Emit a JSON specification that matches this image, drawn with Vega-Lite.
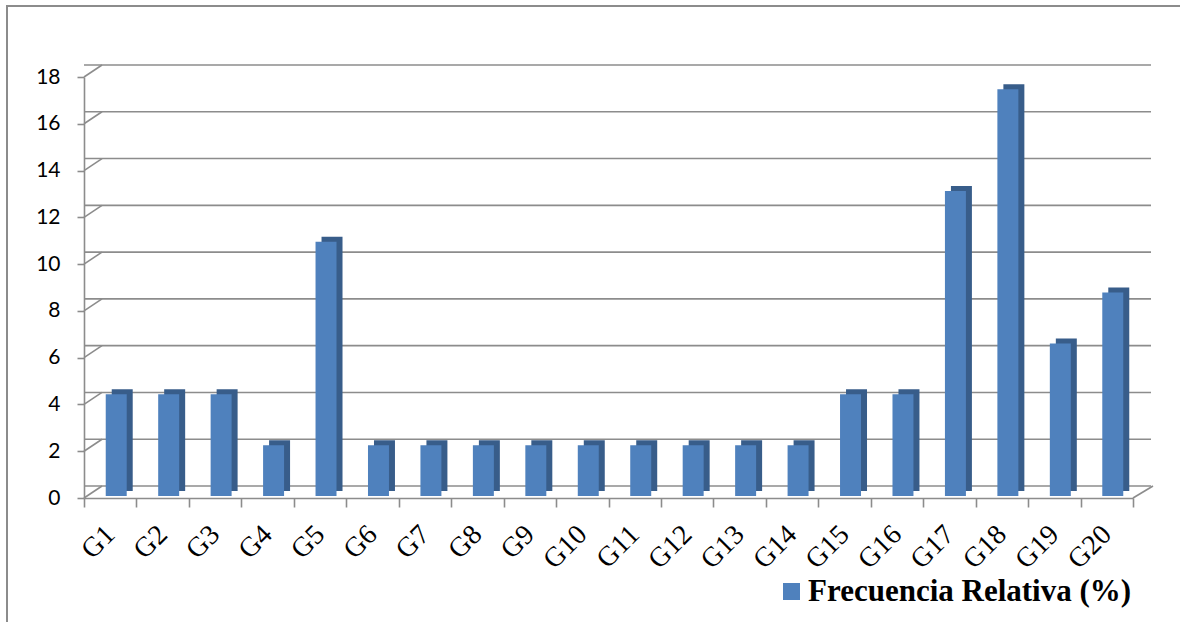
{
  "$schema": "https://vega.github.io/schema/vega-lite/v6.json",
  "width": 1049,
  "height": 421,
  "autosize": {"type": "none"},
  "padding": {"left": 84, "top": 77, "right": 47, "bottom": 124},
  "background": "white",
  "datasets": {
    "bars": [
      {"g": "G1", "v": 4.35}, {"g": "G2", "v": 4.35}, {"g": "G3", "v": 4.35},
      {"g": "G4", "v": 2.17}, {"g": "G5", "v": 10.87}, {"g": "G6", "v": 2.17},
      {"g": "G7", "v": 2.17}, {"g": "G8", "v": 2.17}, {"g": "G9", "v": 2.17},
      {"g": "G10", "v": 2.17}, {"g": "G11", "v": 2.17}, {"g": "G12", "v": 2.17},
      {"g": "G13", "v": 2.17}, {"g": "G14", "v": 2.17}, {"g": "G15", "v": 4.35},
      {"g": "G16", "v": 4.35}, {"g": "G17", "v": 13.04}, {"g": "G18", "v": 17.39},
      {"g": "G19", "v": 6.52}, {"g": "G20", "v": 8.7}
    ],
    "grid": [
      {"t": 0}, {"t": 2}, {"t": 4}, {"t": 6}, {"t": 8},
      {"t": 10}, {"t": 12}, {"t": 14}, {"t": 16}, {"t": 18}
    ]
  },
  "config": {
    "view": {"stroke": null},
    "axis": {
      "domainColor": "#8c8c8c", "domainWidth": 1.6,
      "tickColor": "#8c8c8c", "tickWidth": 1.6,
      "labelColor": "#000000", "grid": false
    },
    "axisY": {"labelFont": "Lato", "labelFontSize": 21, "tickSize": 7, "labelPadding": 17}
  },
  "layer": [
    {
      "data": {"values": [{}]},
      "mark": {"type": "rule", "color": "#8c8c8c", "strokeWidth": 2},
      "encoding": {"x": {"value": -77}, "y": {"value": -71}, "y2": {"value": 545}}
    },
    {
      "data": {"values": [{}]},
      "mark": {"type": "rule", "color": "#8c8c8c", "strokeWidth": 2},
      "encoding": {"x": {"value": -78}, "x2": {"value": 1100}, "y": {"value": -71}}
    },
    {
      "data": {"name": "grid"},
      "mark": {"type": "rule", "color": "#8c8c8c", "strokeWidth": 1.6, "xOffset": 18, "x2Offset": 20, "yOffset": -12},
      "encoding": {
        "y": {"field": "t", "type": "quantitative", "title": null, "scale": {"domain": [0, 18], "nice": false}}
      }
    },
    {
      "data": {"name": "grid"},
      "mark": {"type": "rule", "color": "#8c8c8c", "strokeWidth": 1.6, "x2Offset": 18, "y2Offset": -12},
      "encoding": {
        "x": {"datum": "G1", "bandPosition": 0, "type": "nominal"},
        "x2": {"datum": "G1", "bandPosition": 0},
        "y": {"field": "t", "type": "quantitative", "title": null},
        "y2": {"field": "t"}
      }
    },
    {
      "data": {"values": [{"t": 0}]},
      "mark": {"type": "rule", "color": "#8c8c8c", "strokeWidth": 1.6, "x2Offset": 20, "y2Offset": -12},
      "encoding": {
        "x": {"datum": "G20", "bandPosition": 1, "type": "nominal"},
        "x2": {"datum": "G20", "bandPosition": 1},
        "y": {"field": "t", "type": "quantitative", "title": null},
        "y2": {"field": "t"}
      }
    },
    {
      "data": {"name": "bars"},
      "mark": {"type": "bar", "color": "#385D8A", "width": {"band": 0.4}, "xOffset": 12, "x2Offset": 12, "yOffset": -7, "y2Offset": -7},
      "encoding": {
        "x": {"field": "g", "type": "nominal", "title": null,
              "scale": {"domain": ["G1","G2","G3","G4","G5","G6","G7","G8","G9","G10","G11","G12","G13","G14","G15","G16","G17","G18","G19","G20"],
                        "paddingInner": 0, "paddingOuter": 0},
              "axis": {"labelFont": "Liberation Serif", "labelFontSize": 28, "tickSize": 9, "labelPadding": 23,
                       "labelAngle": -45, "labelAlign": "right", "labelBaseline": "middle", "tickBand": "extent"}},
        "y": {"field": "v", "type": "quantitative", "title": null}
      }
    },
    {
      "data": {"name": "bars"},
      "mark": {"type": "bar", "width": {"band": 0.4}, "xOffset": 6, "x2Offset": 6, "yOffset": -2, "y2Offset": -2},
      "encoding": {
        "x": {"field": "g", "type": "nominal", "title": null,
              "axis": {"labelFont": "Liberation Serif", "labelFontSize": 28, "tickSize": 9, "labelPadding": 23,
                       "labelAngle": -45, "labelAlign": "right", "labelBaseline": "middle", "tickBand": "extent"}},
        "y": {"field": "v", "type": "quantitative", "title": null},
        "color": {
          "datum": "Frecuencia Relativa (%)",
          "scale": {"range": ["#4F81BD"]},
          "legend": {
            "orient": "none", "legendX": 692, "legendY": 499, "title": null,
            "symbolType": "square", "symbolSize": 290, "symbolStrokeWidth": 0,
            "labelFont": "Liberation Serif", "labelFontSize": 31, "labelFontWeight": "bold",
            "labelColor": "#000000", "labelOffset": 1, "labelLimit": 600, "padding": 0
          }
        }
      }
    }
  ]
}
